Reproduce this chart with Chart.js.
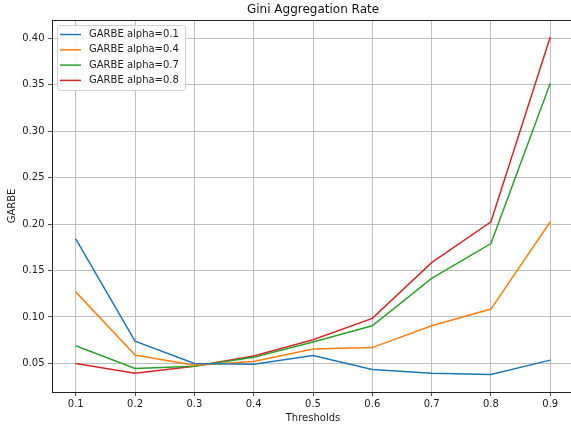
<!DOCTYPE html>
<html>
<head>
<meta charset="utf-8">
<script src="https://cdn.jsdelivr.net/npm/chart.js@4/dist/chart.umd.min.js"></script>
<style>
html,body{margin:0;padding:0;overflow:hidden;background:#fff;}
canvas{display:block;}
</style>
</head>
<body>
<canvas id="c" width="576" height="427"></canvas>
<script>
const thresholds = [0.1, 0.2, 0.3, 0.4, 0.5, 0.6, 0.7, 0.8, 0.9];
const alpha01 = [0.184, 0.074, 0.050, 0.049, 0.0585, 0.0435, 0.0395, 0.038, 0.0535];
const alpha04 = [0.127, 0.059, 0.048, 0.052, 0.0655, 0.067, 0.0905, 0.1085, 0.2025];
const alpha07 = [0.069, 0.0445, 0.047, 0.0565, 0.073, 0.0905, 0.1415, 0.179, 0.3515];
const alpha08 = [0.050, 0.0395, 0.047, 0.058, 0.0755, 0.0985, 0.1585, 0.2025, 0.4015];
const seriesLabels = ['GARBE alpha=0.1', 'GARBE alpha=0.4', 'GARBE alpha=0.7', 'GARBE alpha=0.8'];
const xTicks = [0.1, 0.2, 0.3, 0.4, 0.5, 0.6, 0.7, 0.8, 0.9];
const yTicks = [0.05, 0.10, 0.15, 0.20, 0.25, 0.30, 0.35, 0.40];
const titleText = 'Gini Aggregation Rate';
const xTitle = 'Thresholds';
const yTitle = 'GARBE';

const colors = ['#1f77b4', '#ff7f0e', '#2ca02c', '#d62728'];
const seriesValues = [alpha01, alpha04, alpha07, alpha08];
const FONT = "'DejaVu Sans', sans-serif";

const datasets = seriesValues.map((vals, i) => ({
  label: seriesLabels[i],
  data: thresholds.map((t, j) => ({x: t, y: vals[j]})),
  borderColor: colors[i],
  backgroundColor: colors[i],
  borderWidth: 1.5,
  pointRadius: 0,
  tension: 0,
  fill: false
}));

const extras = {
  id: 'extras',
  afterDraw(chart) {
    const ctx = chart.ctx;
    const a = chart.chartArea;
    ctx.save();
    // top spine
    ctx.strokeStyle = '#222';
    ctx.lineWidth = 1;
    ctx.beginPath();
    ctx.moveTo(a.left, a.top + 0.5);
    ctx.lineTo(a.right + 5, a.top + 0.5);
    ctx.stroke();
    // title
    ctx.fillStyle = '#111';
    ctx.font = '12px ' + FONT;
    ctx.textAlign = 'center';
    ctx.textBaseline = 'middle';
    ctx.fillText(titleText, (a.left + a.right) / 2, 10);
    // legend
    const lx = a.left + 5, ly = a.top + 5, lw = 128, lh = 65;
    ctx.fillStyle = 'rgba(255,255,255,0.85)';
    ctx.strokeStyle = '#d0d0d0';
    ctx.lineWidth = 1;
    ctx.beginPath();
    if (ctx.roundRect) ctx.roundRect(lx + 0.5, ly + 0.5, lw, lh, 3); else ctx.rect(lx + 0.5, ly + 0.5, lw, lh);
    ctx.fill();
    ctx.stroke();
    ctx.font = '10px ' + FONT;
    ctx.textAlign = 'left';
    ctx.textBaseline = 'middle';
    chart.data.datasets.forEach((ds, i) => {
      const yy = ly + 9.5 + i * 15.3;
      ctx.strokeStyle = ds.borderColor;
      ctx.lineWidth = 1.5;
      ctx.beginPath();
      ctx.moveTo(lx + 3, yy);
      ctx.lineTo(lx + 24, yy);
      ctx.stroke();
      ctx.fillStyle = '#222';
      ctx.fillText(ds.label, lx + 32, yy);
    });
    ctx.restore();
  }
};

new Chart(document.getElementById('c'), {
  type: 'line',
  data: {datasets},
  options: {
    responsive: false,
    animation: false,
    devicePixelRatio: 1,
    layout: {padding: {top: 20, left: 0, right: 2, bottom: 0}},
    plugins: {
      legend: {display: false},
      title: {display: false},
      tooltip: {enabled: false}
    },
    scales: {
      x: {
        type: 'linear',
        min: 0.06,
        max: 0.94,
        afterBuildTicks: s => { s.ticks = xTicks.map(v => ({value: v})); },
        afterFit: s => { s.height = 35; },
        ticks: {
          callback: v => Number(v).toFixed(1),
          color: '#222',
          font: {family: FONT, size: 10},
          padding: 2,
          maxRotation: 0,
          autoSkip: false
        },
        grid: {color: '#b0b0b0', lineWidth: 0.8, tickLength: 4, tickColor: '#222', drawOnChartArea: true},
        border: {display: true, color: '#222', width: 1},
        title: {display: true, text: xTitle, color: '#222', font: {family: FONT, size: 10}, padding: {top: 0, bottom: 3}}
      },
      y: {
        type: 'linear',
        min: 0.0192,
        max: 0.4197,
        afterBuildTicks: s => { s.ticks = yTicks.map(v => ({value: v})); },
        afterFit: s => { s.width = 52; },
        ticks: {
          callback: v => Number(v).toFixed(2),
          color: '#222',
          font: {family: FONT, size: 10},
          padding: 3.5
        },
        grid: {color: '#b0b0b0', lineWidth: 0.8, tickLength: 4, tickColor: '#222'},
        border: {display: true, color: '#222', width: 1},
        title: {display: true, text: yTitle, color: '#222', font: {family: FONT, size: 10}, padding: {top: 6, bottom: 0}}
      }
    }
  },
  plugins: [extras]
});
</script>
</body>
</html>
